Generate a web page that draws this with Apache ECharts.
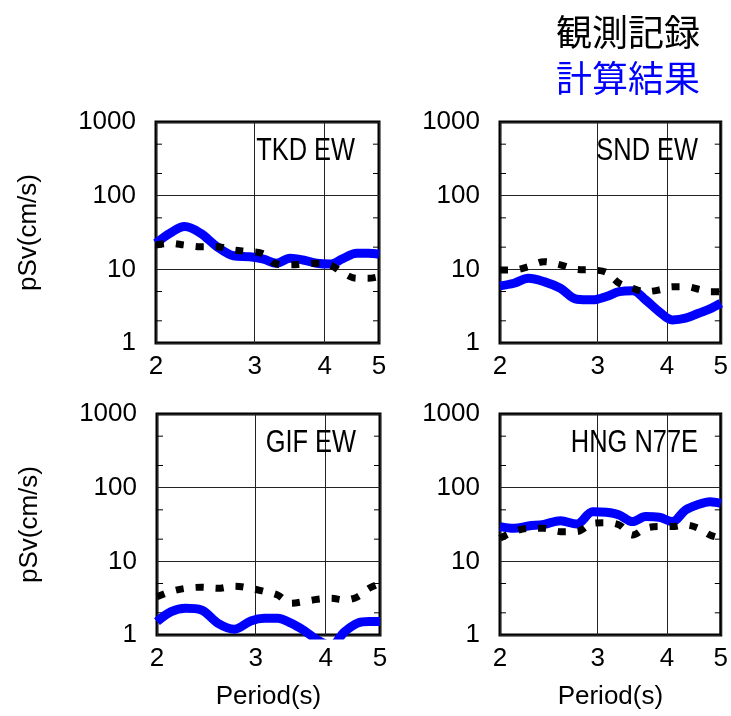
<!DOCTYPE html>
<html><head><meta charset="utf-8">
<script src="https://cdn.jsdelivr.net/npm/echarts@6/dist/echarts.min.js"></script>
<style>html,body{margin:0;padding:0;background:#fff}#c{width:731px;height:716px}</style>
</head><body><div id="c"></div>
<script>
// ---- data ----
const periods = [2.0, 2.12, 2.25, 2.4, 2.57, 2.75, 2.94, 3.11, 3.28, 3.47, 3.66, 3.87, 4.09, 4.32, 4.56, 4.78, 5.0];
const stations = ['TKD EW', 'SND EW', 'GIF EW', 'HNG N77E'];
const seriesNames = ['観測記録', '計算結果'];

const obsTKD = [21.4, 22.6, 21.4, 20.3, 20.3, 18.3, 17.4, 16.2, 11.8, 11.5, 11.8, 12.1, 11.5, 8.85, 7.56, 7.56, 7.96];
const calTKD = [22.6, 31, 38, 31, 20.3, 15.3, 14.8, 13.8, 12.1, 14.1, 13.4, 12.1, 11.8, 14.1, 16.5, 16.5, 16.0];

const obsSND = [9.8, 9.8, 10.9, 12.7, 11.5, 10.0, 9.8, 9.1, 6.47, 5.53, 4.98, 5.25, 5.82, 5.82, 5.37, 4.98, 4.98];
const calSND = [5.96, 6.47, 7.56, 6.81, 5.53, 3.93, 3.85, 4.27, 4.98, 5.14, 3.85, 2.67, 2.06, 2.17, 2.54, 2.90, 3.47];

const obsGIF = [3.3, 3.9, 4.3, 4.45, 4.3, 4.6, 4.3, 3.9, 3.5, 2.7, 2.85, 3.05, 3.15, 3.0, 3.3, 4.3, 5.0];
const calGIF = [1.52, 2.08, 2.31, 2.19, 1.44, 1.2, 1.55, 1.69, 1.69, 1.45, 1.15, 0.85, 0.72, 1.1, 1.45, 1.52, 1.52];

const obsHNG = [20.6, 25.3, 28.1, 28.1, 25.3, 25.3, 32.9, 33.5, 31.2, 22.8, 28.1, 29.6, 29.6, 31.2, 28.1, 22.8, 20.6];
const calHNG = [29.6, 28.1, 30.2, 31.8, 35.6, 32.1, 47.2, 46.3, 42.6, 34.6, 40.5, 39.7, 34.6, 49.8, 59.4, 64.6, 61.4];

const xTicks = [2, 3, 4, 5];
const yMinorTicks = [2, 5, 20, 50, 200, 500];
const xAxisName = 'Period(s)';
const yAxisName = 'pSv(cm/s)';

const obsAll = [obsTKD, obsSND, obsGIF, obsHNG];
const calAll = [calTKD, calSND, calGIF, calHNG];

// ---- layout ----
const gridBoxes = [
  {left: 156, top: 122, width: 223, height: 221},
  {left: 500, top: 122, width: 222, height: 221},
  {left: 157, top: 414, width: 223, height: 221},
  {left: 500, top: 414, width: 222, height: 221}
];
const FONT = 'Liberation Sans, Arial, sans-serif';
const BLUE = '#0000ff';

const grids = [], xAxes = [], yAxes = [], series = [], graphics = [];
gridBoxes.forEach((b, i) => {
  grids.push(Object.assign({show: true, borderColor: '#000', borderWidth: 3, backgroundColor: 'transparent', containLabel: false}, b));
  xAxes.push({
    type: 'log', logBase: 10, gridIndex: i, min: 2, max: 5,
    name: i >= 2 ? xAxisName : '', nameLocation: 'middle', nameGap: 49,
    nameTextStyle: {fontSize: 26, color: '#000', fontFamily: FONT},
    axisLine: {show: false},
    axisTick: {show: false, customValues: xTicks},
    axisLabel: {customValues: xTicks, fontSize: 26, color: '#000', fontFamily: FONT, margin: 11,
      formatter: v => String(Math.round(v))},
    splitLine: {show: true, lineStyle: {color: '#222', width: 1}}
  });
  yAxes.push({
    type: 'log', logBase: 10, gridIndex: i, min: 1, max: 1000,
    name: i % 2 === 0 ? yAxisName : '', nameLocation: 'middle', nameGap: 114,
    nameTextStyle: {fontSize: 26, color: '#000', fontFamily: FONT},
    axisLine: {show: false}, axisTick: {show: false},
    axisLabel: {fontSize: 26, color: '#000', fontFamily: FONT, margin: 20,
      formatter: v => String(Math.round(v))},
    splitLine: {show: true, lineStyle: {color: '#222', width: 1}}
  });
  // minor ticks at 2 and 5 per decade, both sides
  series.push({
    type: 'custom', xAxisIndex: i, yAxisIndex: i, silent: true, z: 1,
    data: yMinorTicks.map(v => [2, v]),
    encode: {x: 0, y: 1},
    renderItem: (params, api) => {
      const v = api.value(1);
      const pl = api.coord([2, v]);
      const pr = api.coord([5, v]);
      return {type: 'group', children: [
        {type: 'line', shape: {x1: pl[0], y1: pl[1], x2: pl[0] + 6, y2: pl[1]}, style: {stroke: '#000', lineWidth: 1}},
        {type: 'line', shape: {x1: pr[0] - 6, y1: pr[1], x2: pr[0], y2: pr[1]}, style: {stroke: '#000', lineWidth: 1}}
      ]};
    }
  });
  series.push({
    name: seriesNames[1], type: 'line', xAxisIndex: i, yAxisIndex: i, z: 3,
    data: periods.map((p, k) => [p, calAll[i][k]]),
    smooth: 0.35, symbol: 'none', clip: true,
    itemStyle: {color: BLUE},
    lineStyle: {color: BLUE, width: 9}
  });
  series.push({
    name: seriesNames[0], type: 'line', xAxisIndex: i, yAxisIndex: i, z: 4,
    data: periods.map((p, k) => [p, obsAll[i][k]]),
    smooth: 0.35, symbol: 'none', clip: true,
    itemStyle: {color: '#000'},
    lineStyle: {color: '#000', width: 7, type: [8, 12], cap: 'butt'}
  });
  graphics.push({
    type: 'text', x: b.left + b.width - 24, y: b.top + 29, scaleX: 0.82, z: 10,
    style: {text: stations[i], fill: '#000', font: '31px ' + FONT, textAlign: 'right', textVerticalAlign: 'middle'}
  });
});

const chart = echarts.init(document.getElementById('c'), null, {renderer: 'canvas'});
chart.setOption({
  animation: false,
  backgroundColor: '#fff',
  grid: grids, xAxis: xAxes, yAxis: yAxes, series: series,
  graphic: graphics,
  legend: {
    orient: 'vertical', right: 26, top: 9, icon: 'none', itemWidth: 0, itemGap: 10,
    selectedMode: false,
    textStyle: {fontSize: 36, fontFamily: 'Noto Sans CJK JP', fontWeight: 'normal'},
    data: [
      {name: seriesNames[0], textStyle: {color: '#000'}},
      {name: seriesNames[1], textStyle: {color: BLUE}}
    ]
  }
});
</script></body></html>
